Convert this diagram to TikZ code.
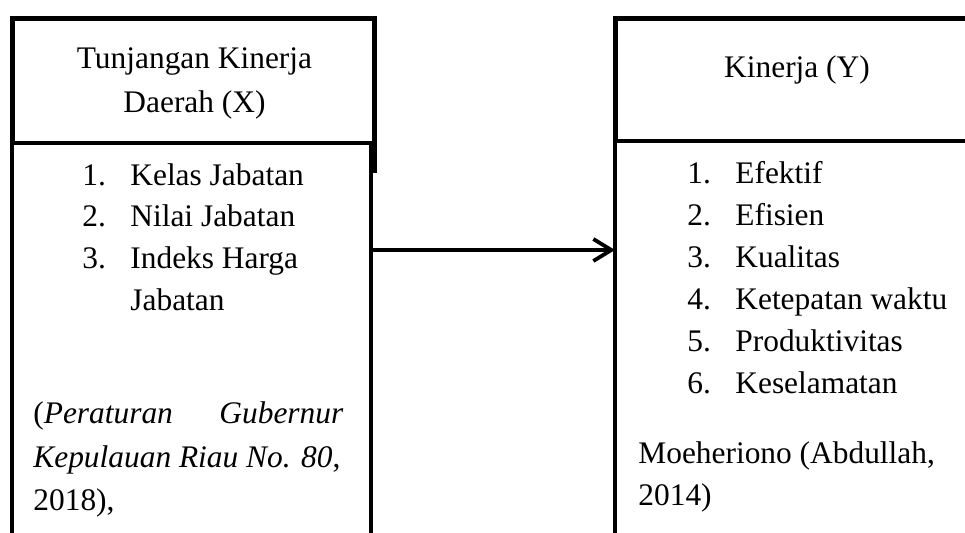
\documentclass[tikz,border=0pt]{standalone}
\usepackage{fontspec}
\setmainfont{Liberation Serif}
\usetikzlibrary{arrows.meta}
\tikzset{>={Straight Barb[length=9pt,width=11pt]}}
\tikzstyle{headbox}=[rectangle,draw=black,line width=2.5pt,inner sep=0pt,outer sep=0pt]
\tikzstyle{bodybox}=[rectangle,draw=black,fill=white,line width=2pt,inner sep=0pt,outer sep=0pt]
\tikzstyle{txt}=[inner sep=0pt,anchor=base west,font=\fontsize{15.7pt}{21pt}\selectfont]
\tikzstyle{htxt}=[txt,anchor=base]

\begin{document}
\begin{tikzpicture}[x=0.5pt,y=-0.5pt]
	\def \u {0.5pt}
	\def \xsep {41.6}
	\def \ysep {42}
	\clip (0,0) rectangle (965,532);

	% left box
	\node[headbox, minimum width=362*\u, minimum height=152*\u] (xhead) at (193,94) {};
	\node[bodybox, minimum width=359*\u, minimum height=477*\u] (xbody) at (191.5,381.5) {};
	% right box
	\node[headbox, minimum width=365*\u, minimum height=123*\u] (yhead) at (797.5,79.5) {};
	\node[bodybox, minimum width=365*\u, minimum height=479*\u] (ybody) at (797.5,380.5) {};

	\node[htxt] (xt1) at (194.5,68) {Tunjangan Kinerja};
	\node[htxt] (xt2) at (194.5,112) {Daerah (X)};
	\node[htxt] (yt1) at (797,77) {Kinerja (Y)};

	\foreach \i/\lbl in {1/Kelas Jabatan, 2/Nilai Jabatan, 3/Indeks Harga} {
		\node[txt] (xn\i) at (82, {185 + \xsep*(\i-1)}) {\i.};
		\node[txt] (xi\i) at (130, {185 + \xsep*(\i-1)}) {\lbl};
	};
	\node[txt] (xi4) at (130,310) {Jabatan};

	\foreach \i/\lbl in {1/Efektif, 2/Efisien, 3/Kualitas, 4/Ketepatan waktu, 5/Produktivitas, 6/Keselamatan} {
		\node[txt] (yn\i) at (687, {183 + \ysep*(\i-1)}) {\i.};
		\node[txt] (yi\i) at (735, {183 + \ysep*(\i-1)}) {\lbl};
	};

	% sources
	\node[txt] (xs1) at (33,423) {\makebox[155pt][s]{(\textit{Peraturan} \textit{Gubernur}}};
	\node[txt] (xs2) at (33,467) {\textit{Kepulauan Riau No. 80}, };
	\node[txt] (xs3) at (33,510) {2018),};
	\node[txt] (ys1) at (638,463) {Moeheriono (Abdullah,};
	\node[txt] (ys2) at (638,505) {2014)};

	\coordinate (arr) at (0,250);
	\draw[->, line width=1.9pt] (xbody.east |- arr) -- (ybody.west |- arr);
\end{tikzpicture}
\end{document}
